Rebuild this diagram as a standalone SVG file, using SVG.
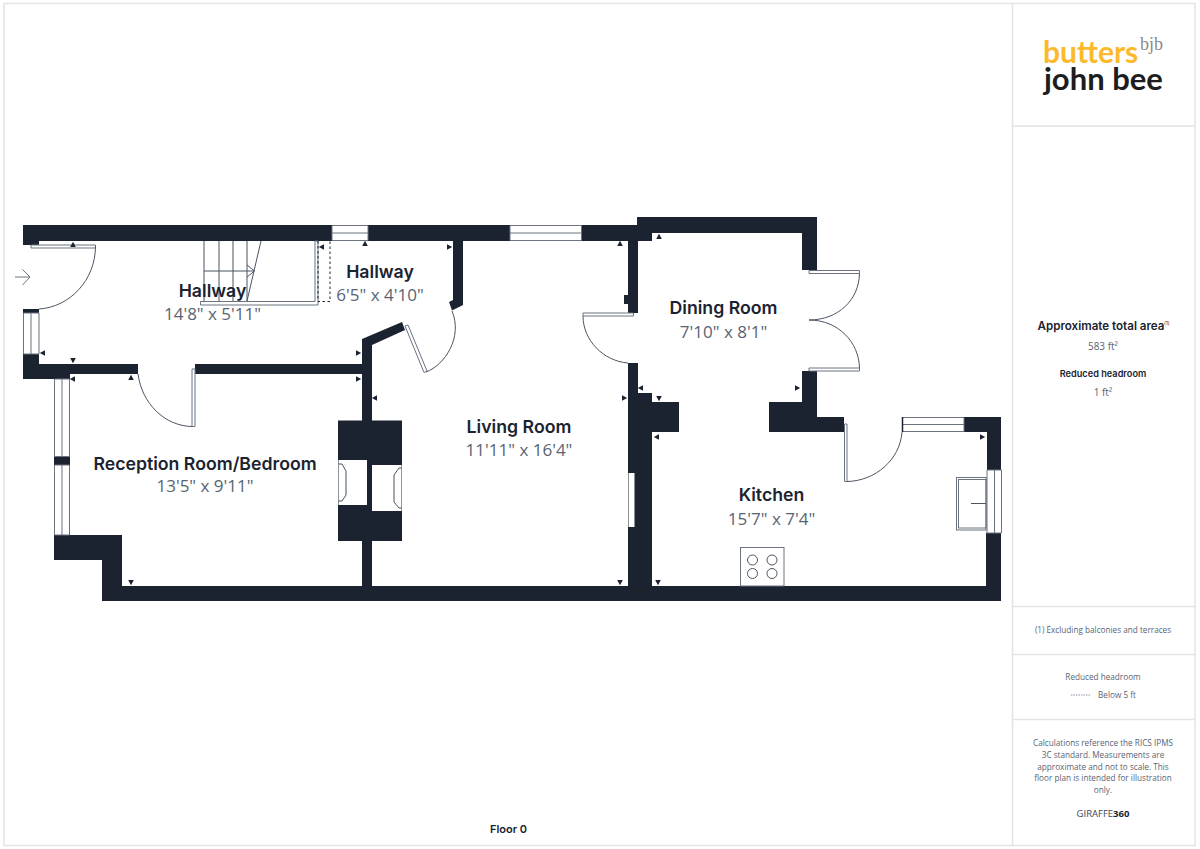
<svg xmlns="http://www.w3.org/2000/svg" width="1200" height="849" viewBox="0 0 1200 849">
<style>
.w{fill:#1b2330}
.f{fill:#fff;stroke:#6b7280;stroke-width:1}
.l{fill:none;stroke:#4b5563;stroke-width:1}
.g{fill:none;stroke:#e3e4e6;stroke-width:1.5}
.n{font-family:"Inter","Liberation Sans",sans-serif;font-weight:600;font-size:17.7px;fill:#1b2330;text-anchor:middle}
.d{font-family:"Open Sans","Liberation Sans",sans-serif;font-size:17px;fill:#596473;text-anchor:middle}
.b{font-family:"Inter","Liberation Sans",sans-serif;font-weight:600;fill:#1b2330;text-anchor:middle}
.s{font-family:"Open Sans","Liberation Sans",sans-serif;font-size:8.2px;fill:#596473;text-anchor:middle}
</style>
<defs><path id="t" d="M0,-3.200L2.800,2H-2.800Z" fill="#1b2330"/></defs>
<rect width="1200" height="849" fill="#fff"/>
<g id="frame">
<rect class="g" x="4" y="3.500" width="1191" height="842"/>
<path class="g" d="M1012.500 3.500V845.500M1012.500 126H1195M1012.500 606.500H1195M1012.500 654.500H1195M1012.500 719.500H1195"/>
</g>
<g id="walls">
<path class="w" d="M23,225H637V217H817V270H802V233H652V241H638V295H628V241H39V245H23Z"/>
<path class="w" d="M624,295H638V313H628V304H624Z"/>
<rect class="w" x="23" y="309" width="16" height="4"/>
<path class="w" d="M23,354H39V364H138V374H70V379H23Z"/>
<rect class="w" x="195" y="364" width="167" height="10"/>
<path class="w" d="M362,339L402,322L405,330L372,345V420.500H402V541H372V586H628V363H638V393H652V402H679V432H652V586H986V533H1001V601H102V560H54V535H122V586H362V541H338V420.500H362Z"/>
<rect class="w" x="628" y="393" width="24" height="208"/>
<path class="w" d="M802,371H817V417H844V432H769V402H802Z"/>
<path class="w" d="M964,417H1001V470H987V432H964Z"/>
<path class="w" d="M453,241H463V305L452,310.500L449,302L453,300Z"/>
<rect class="w" x="54" y="456.500" width="16" height="8.500"/>
</g>
<g id="windows">
<path class="f" d="M332,225.500H368V240.500H332ZM332,233H368"/>
<path class="f" d="M510,225.500H581.500V240.500H510ZM510,233H581.500"/>
<path class="f" d="M23.500,313H39V354H23.500ZM31,313V354"/>
<path class="f" d="M54.500,379H69.500V456.500H54.500ZM62,379V456.500M54.500,465H69.500V535H54.500ZM62,465V535"/>
<path class="f" d="M902.500,417.500H964V431.500H902.500ZM902.500,424.500H964"/>
<path d="M902.500,417V432" stroke="#1b2330" stroke-width="1.500"/>
<path class="f" d="M987,470H1001.500V533H987ZM994.500,470V533"/>
<rect x="628.500" y="473" width="6" height="54" fill="#fff"/>
</g>
<g id="doors">
<path class="f" d="M31,245H95.500V248H31Z"/>
<path class="l" d="M95.500,246C95.500,280 70,307 39,309"/>
<path class="f" d="M192,369H195V426.500H192Z"/>
<path class="l" d="M192,426.500C165,426 142,404 138,374"/>
<path class="f" d="M405,326L408,325L427,371L424,372.500Z"/>
<path class="l" d="M426,372C445,365 463,337 452,311"/>
<path class="f" d="M583,313H633.500V316H583Z"/>
<path class="l" d="M583,316C583,340 603,361 628,363"/>
<path class="f" d="M809,270.500H859.500V273.500H809Z"/>
<path class="l" d="M859.500,273.500C859,300 838,320 809,320"/>
<path class="f" d="M809,368H859.500V371H809Z"/>
<path class="l" d="M859.500,368C859,342 838,320 809,320"/>
<path class="f" d="M844.500,424H847V481.500H844.500Z"/>
<path class="l" d="M847,481.500C875,481 900,460 902,432"/>
</g>
<g id="stairs">
<path class="l" d="M204,241V301M219,241V301M233,241V301M247,241V301M261,241L247,301M204,271H254M247,265L254.500,271L247,277"/>
<path class="f" d="M200.500,301.500H315V241H318V305H200.500Z"/>
<path d="M318,241V301.500H330V241" fill="none" stroke="#1b2330" stroke-width="1" stroke-dasharray="2.500 2.500"/>
</g>
<g id="entry"><path d="M15,277H30M22.500,269.500L30,277L22.500,285" fill="none" stroke="#6b7280" stroke-width="1"/></g>
<g id="fireplace">
<rect x="338.500" y="460" width="28.500" height="45" fill="#fff"/>
<rect x="372" y="465" width="29.500" height="46" fill="#fff"/>
<path class="l" stroke-width=".8" d="M338.500,464H342L346,471V495L342,501H338.500M401.500,468H399L394,475V502L399,508H401.500"/>
</g>
<g id="sink"><rect x="956.500" y="477.500" width="29.500" height="52.500" fill="#fff" stroke="#6b7280"/><rect x="958.500" y="479.500" width="27.500" height="48.500" fill="none" stroke="#6b7280"/><path class="l" d="M971,503.500H986"/></g>
<g id="hob"><rect x="740.500" y="547.500" width="43.500" height="38.500" fill="#fff" stroke="#6b7280"/>
<g fill="none" stroke="#4b5563"><circle cx="752.500" cy="560" r="5"/><circle cx="772" cy="560" r="5"/><circle cx="752.500" cy="573.500" r="5"/><circle cx="772" cy="573.500" r="5"/></g></g>
<g id="markers">
<use href="#t" x="73" y="245"/><use href="#t" x="131" y="378"/><use href="#t" x="365" y="244"/><use href="#t" x="620" y="244"/><use href="#t" x="659" y="237"/>
<use href="#t" transform="translate(73,360) rotate(180)"/><use href="#t" transform="translate(659,398) rotate(180)"/><use href="#t" transform="translate(658,582) rotate(180)"/><use href="#t" transform="translate(620,582) rotate(180)"/><use href="#t" transform="translate(131,582) rotate(180)"/>
<use href="#t" transform="translate(43,353) rotate(-90)"/><use href="#t" transform="translate(73,379) rotate(-90)"/><use href="#t" transform="translate(322,247) rotate(-90)"/><use href="#t" transform="translate(375,398) rotate(-90)"/><use href="#t" transform="translate(641,388) rotate(-90)"/><use href="#t" transform="translate(657,437) rotate(-90)"/>
<use href="#t" transform="translate(449,247) rotate(90)"/><use href="#t" transform="translate(358,353) rotate(90)"/><use href="#t" transform="translate(358,379) rotate(90)"/><use href="#t" transform="translate(624,398) rotate(90)"/><use href="#t" transform="translate(797,388) rotate(90)"/><use href="#t" transform="translate(982,437) rotate(90)"/>
</g>
<g id="room-hallway-1"><text class="n" x="212.500" y="297">Hallway</text><text class="d" x="212.500" y="320">14'8" x 5'11"</text></g>
<g id="room-hallway-2"><text class="n" x="380" y="278">Hallway</text><text class="d" x="380" y="301">6'5" x 4'10"</text></g>
<g id="room-dining"><text class="n" x="723.500" y="314">Dining Room</text><text class="d" x="723.500" y="338">7'10" x 8'1"</text></g>
<g id="room-living"><text class="n" x="519" y="433">Living Room</text><text class="d" x="519" y="456">11'11" x 16'4"</text></g>
<g id="room-kitchen"><text class="n" x="771.500" y="501">Kitchen</text><text class="d" x="771.500" y="525">15'7" x 7'4"</text></g>
<g id="room-reception"><text class="n" x="205" y="470">Reception Room/Bedroom</text><text class="d" x="205" y="492">13'5" x 9'11"</text></g>
<text class="b" x="508.500" y="833" font-size="11">Floor 0</text>
<g id="logo">
<text x="1043" y="63" font-family="Lato,'Liberation Sans',sans-serif" font-weight="700" font-size="30" fill="#fdb92c">butters</text>
<text x="1044" y="90" font-family="Lato,'Liberation Sans',sans-serif" font-weight="700" font-size="31" fill="#1d1d1f">john bee</text>
<text x="1140" y="50" font-family="'Liberation Serif',serif" font-size="18" fill="#8a8a8a">bjb</text>
</g>
<g id="info">
<text class="b" x="1101" y="330" font-size="11.600">Approximate total area</text><text x="1164" y="325" font-family="Inter,sans-serif" font-size="5" fill="#1b2330">(1)</text>
<text class="s" x="1103" y="350" style="font-size:10px">583 ft²</text>
<text class="b" x="1103" y="377" font-size="9.200">Reduced headroom</text>
<text class="s" x="1103" y="396" style="font-size:10px">1 ft²</text>
<text class="s" x="1103" y="633">(1) Excluding balconies and terraces</text>
<text class="s" x="1103" y="680">Reduced headroom</text>
<path d="M1071,695H1091" stroke="#8a93a0" stroke-width="1" stroke-dasharray="1.500 1"/>
<text class="s" x="1117" y="698">Below 5 ft</text>
<text class="s" x="1103" y="746">Calculations reference the RICS IPMS</text>
<text class="s" x="1103" y="758">3C standard. Measurements are</text>
<text class="s" x="1103" y="770">approximate and not to scale. This</text>
<text class="s" x="1103" y="781">floor plan is intended for illustration</text>
<text class="s" x="1103" y="793">only.</text>
<text x="1103" y="817" text-anchor="middle" font-family="'Open Sans',sans-serif" font-size="9.500" fill="#3d4654">GIRAFFE<tspan font-weight="700" fill="#1b2330">360</tspan></text>
</g>
</svg>
